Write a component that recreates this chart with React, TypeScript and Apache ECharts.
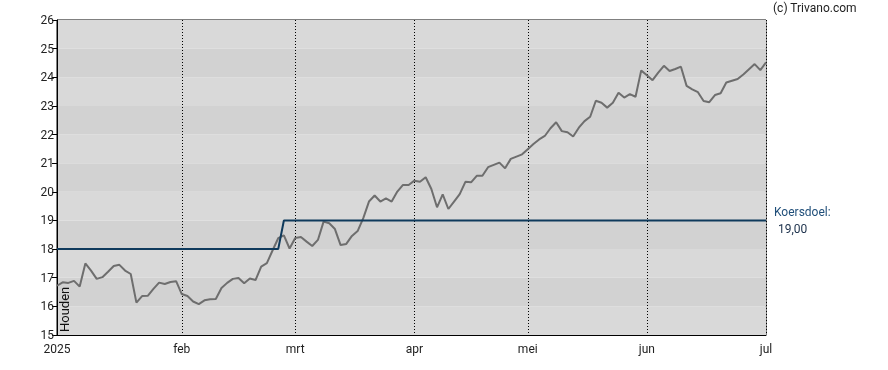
import React, { useEffect, useRef } from "react";
import * as echarts from "echarts";

const prices: number[] = [
  16.72, 16.84, 16.82, 16.89, 16.69, 17.5, 17.25, 16.96, 17.02, 17.21,
  17.41, 17.45, 17.25, 17.13, 16.13, 16.36, 16.37, 16.61, 16.83, 16.78,
  16.85, 16.88, 16.43, 16.36, 16.17, 16.08, 16.21, 16.25, 16.26, 16.64,
  16.82, 16.96, 16.99, 16.81, 16.97, 16.92, 17.39, 17.51, 17.95, 18.38,
  18.48, 18.02, 18.39, 18.42, 18.26, 18.11, 18.32, 18.96, 18.9, 18.7,
  18.14, 18.18, 18.46, 18.63, 19.08, 19.66, 19.87, 19.66, 19.77, 19.66,
  20.01, 20.24, 20.24, 20.39, 20.35, 20.51, 20.1, 19.46, 19.91, 19.4,
  19.66, 19.92, 20.35, 20.33, 20.56, 20.56, 20.86, 20.94, 21.02, 20.82,
  21.15, 21.23, 21.31, 21.49, 21.67, 21.83, 21.95, 22.22, 22.43, 22.12,
  22.08, 21.93, 22.24, 22.47, 22.62, 23.18, 23.11, 22.94, 23.11, 23.46,
  23.29, 23.41, 23.32, 24.24, 24.07, 23.9, 24.16, 24.4, 24.22, 24.29,
  24.37, 23.7, 23.58, 23.48, 23.17, 23.13, 23.38, 23.44, 23.82, 23.88,
  23.94, 24.1, 24.28, 24.46, 24.25, 24.52,
];

// trading days: weekdays from 2 Jan to 1 Jul 2025, minus exchange holidays
const firstDay = "2025-01-02";
const lastDay = "2025-07-01";
const holidays: string[] = ["2025-04-18", "2025-04-21", "2025-05-01"];

function tradingDays(): string[] {
  const out: string[] = [];
  const d = new Date(firstDay + "T00:00:00Z");
  const end = new Date(lastDay + "T00:00:00Z");
  while (d.getTime() <= end.getTime()) {
    const iso = d.toISOString().slice(0, 10);
    const wd = d.getUTCDay();
    if (wd !== 0 && wd !== 6 && holidays.indexOf(iso) < 0) out.push(iso);
    d.setUTCDate(d.getUTCDate() + 1);
  }
  return out;
}
const categories: string[] = tradingDays();

// target price
const targetChangeDate = "2025-02-27";
const targetBefore = 18;
const targetAfter = 19;
const targets: number[] = categories.map((c) =>
  c < targetChangeDate ? targetBefore : targetAfter
);

const monthLabels: string[] = ["2025", "feb", "mrt", "apr", "mei", "jun", "jul"];

const yTicks = { min: 15, max: 26, interval: 1 };
const targetLabel = "Koersdoel:";
const targetValueText = "19,00";
const adviceText = "Houden";
const copyright = "(c) Trivano.com";

function isMonthStart(i: number): boolean {
  if (i === 0) return true;
  return categories[i].slice(5, 7) !== categories[i - 1].slice(5, 7);
}

export default function App() {
  const ref = useRef<HTMLDivElement>(null);
  useEffect(() => {
    if (!ref.current) return;
    const chart = echarts.init(ref.current, undefined, { renderer: "svg" });
    const font = "Roboto, 'Liberation Sans', Arial, sans-serif";
    chart.setOption({
      animation: false,
      textStyle: { fontFamily: font },
      grid: {
        left: 57,
        right: 122,
        top: 20,
        bottom: 35,
        show: true,
        borderColor: "#000",
        borderWidth: 1,
        backgroundColor: "transparent",
        containLabel: false,
      },
      xAxis: {
        type: "category",
        data: categories,
        boundaryGap: false,
        axisLine: { show: true, lineStyle: { color: "#000", width: 1 } },
        axisTick: { show: false },
        axisLabel: {
          interval: (i: number) => isMonthStart(i),
          color: "#222",
          fontSize: 12,
          fontFamily: font,
          margin: 8,
          showMinLabel: true,
          showMaxLabel: true,
          formatter: (v: string) => {
            const m = parseInt(v.slice(5, 7), 10) - 1;
            return monthLabels[m] ?? "";
          },
        },
        splitLine: {
          show: true,
          interval: (i: number) => i !== 0 && isMonthStart(i),
          lineStyle: { color: "#000", type: [1, 2], width: 1 },
        },
      },
      yAxis: {
        type: "value",
        min: yTicks.min,
        max: yTicks.max,
        interval: yTicks.interval,
        axisLine: { show: true, lineStyle: { color: "#000", width: 1 } },
        axisTick: { show: true, length: 5, lineStyle: { color: "#000" } },
        axisLabel: { color: "#222", fontSize: 12, fontFamily: font, margin: 3 },
        splitLine: { show: false },
        splitArea: {
          show: true,
          areaStyle: { color: ["#d9d9d9", "#d2d2d2"] },
        },
      },
      series: [
        {
          type: "line",
          data: prices,
          showSymbol: false,
          symbol: "none",
          lineStyle: { color: "#6e6e6e", width: 2 },
          z: 2,
        },
        {
          type: "line",
          data: targets,
          showSymbol: false,
          symbol: "none",
          lineStyle: { color: "#0f3a5c", width: 2 },
          z: 3,
        },
      ],
      graphic: [
        {
          type: "text",
          left: 773,
          top: 2,
          z: 100,
          style: { text: copyright, fill: "#222", font: `12px ${font}` },
        },
        {
          type: "text",
          left: 774,
          top: 206,
          z: 100,
          style: { text: targetLabel, fill: "#1f4e79", font: `12px ${font}` },
        },
        {
          type: "text",
          left: 778,
          top: 223,
          z: 100,
          style: { text: targetValueText, fill: "#1a2f4a", font: `12px ${font}` },
        },
        {
          type: "text",
          x: 58,
          y: 332,
          z: 100,
          rotation: Math.PI / 2,
          style: {
            text: adviceText,
            fill: "#111",
            font: `13px ${font}`,
            align: "left",
            verticalAlign: "top",
          },
        },
      ],
    });
    return () => chart.dispose();
  }, []);
  return (
    <div
      ref={ref}
      style={{ position: "fixed", left: 0, top: 0, width: 888, height: 370 }}
    />
  );
}
